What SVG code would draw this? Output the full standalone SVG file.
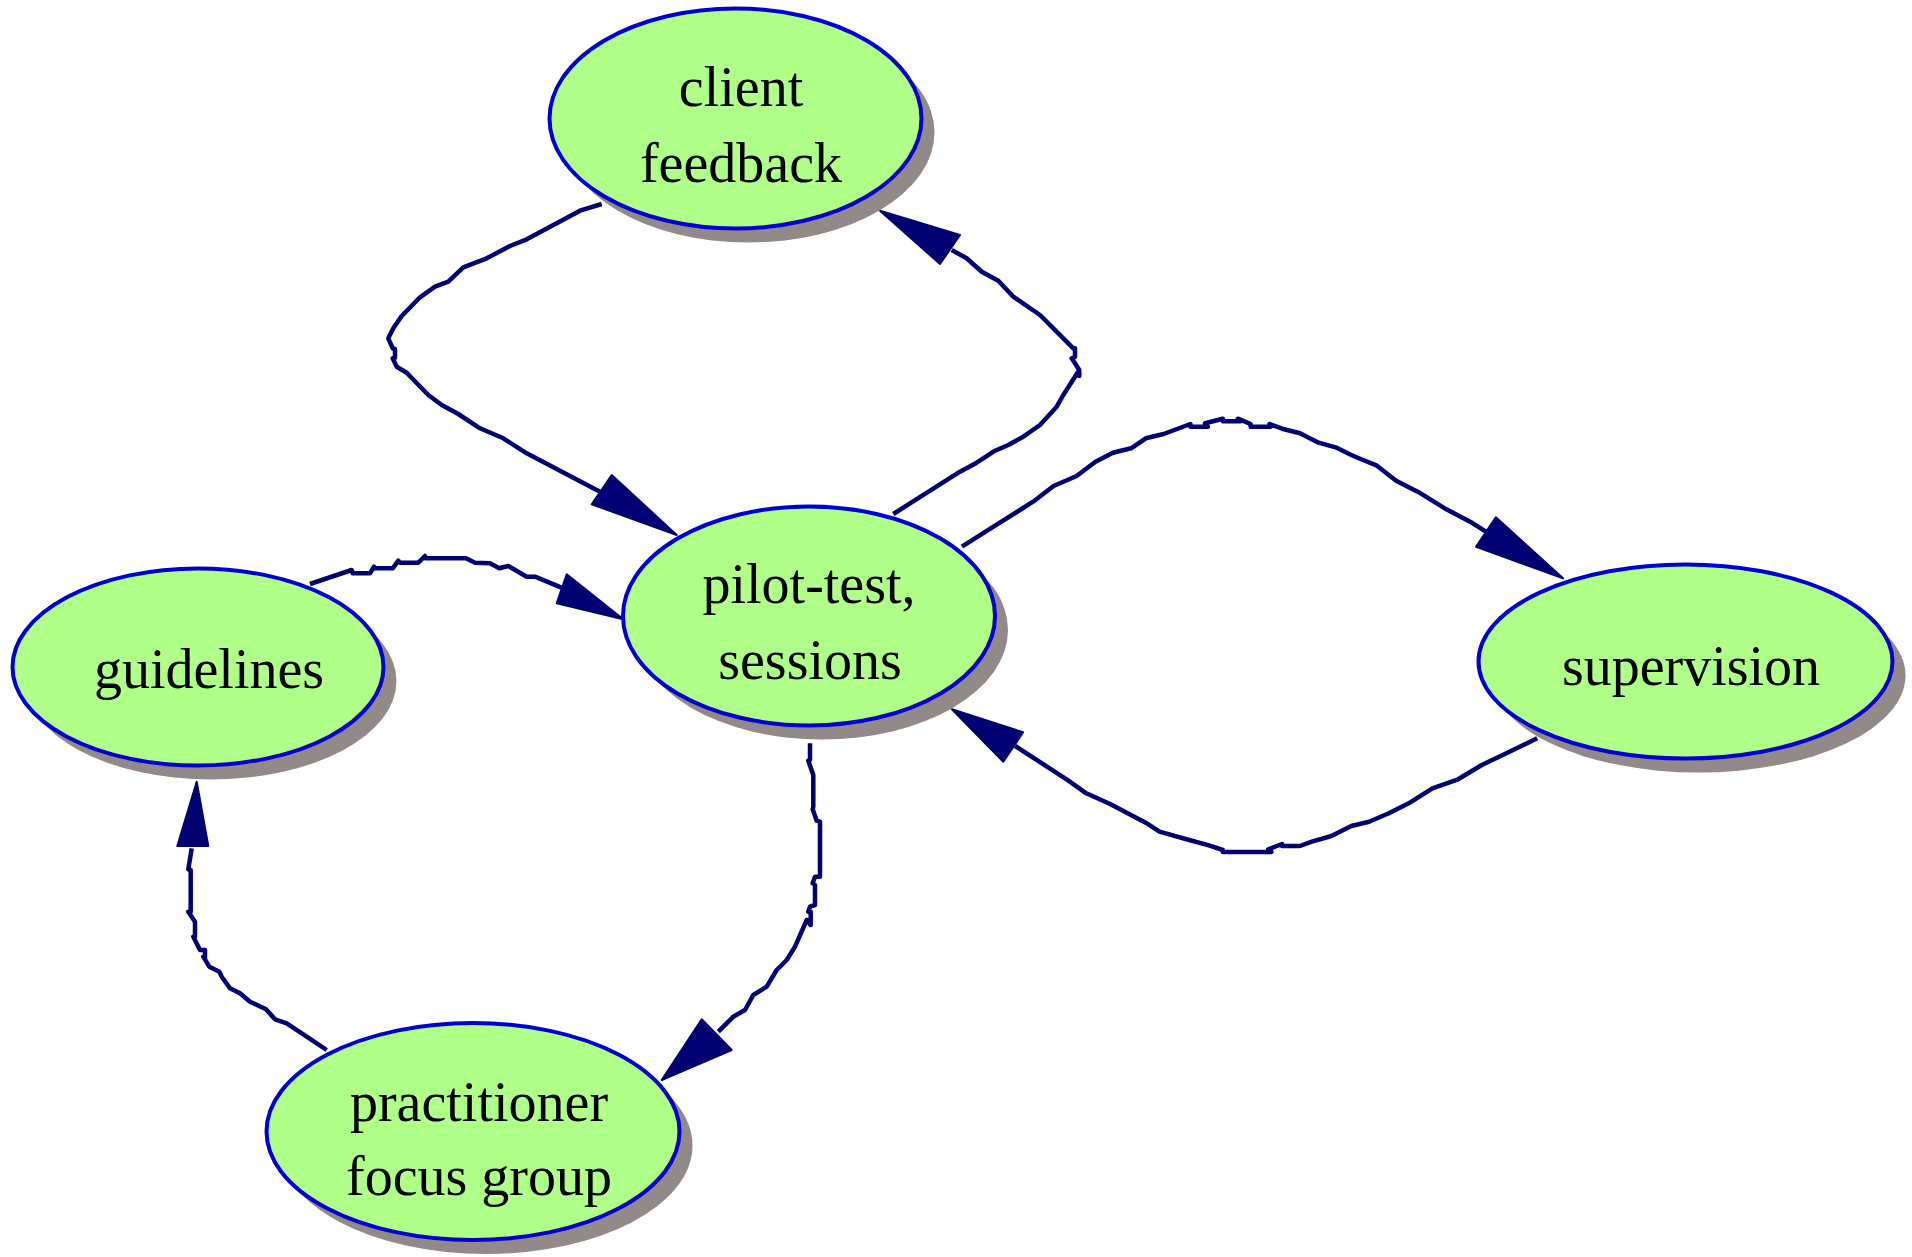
<svg xmlns="http://www.w3.org/2000/svg" width="1912" height="1257" viewBox="0 0 1912 1257">
<style>
.shadow{fill:#928989;stroke:none}
.body{fill:#b0ff88;stroke:#0000d0;stroke-width:4}
.lbl{font-family:"Liberation Serif","Times New Roman",serif;font-size:56px;fill:#000;text-anchor:middle}
.edge{fill:none;stroke:#000072;stroke-width:4.5;stroke-linejoin:round;stroke-linecap:butt}
.head{fill:#000072;stroke:#000072;stroke-width:2;stroke-linejoin:round}
</style>
<rect width="1912" height="1257" fill="#ffffff"/>
<g id="connectors">
<g id="e-client-pilot">
<polyline class="edge" points="601.7,204 580,210.7 556.7,223.3 526.7,239.3 510,246 486.7,258.3 463.3,267.3 448.3,281.7 435,286.7 420,297.3 401.7,316 393.3,328.3 388.3,338.3 392.7,348.3 395,349 395,358 392.7,358.3 396.7,366.7 406.7,372.7 428.3,395 441.7,405 458.3,414 480,428.3 503.3,438.3 526.7,453.3 600,491.7"/>
<polygon class="head" points="611.7,475 591.7,504.3 676.7,535"/>
</g>
<g id="e-pilot-client">
<polyline class="edge" points="893.3,514 960,471.7 976.7,462.7 995,450.7 1008.3,445 1023.3,436.7 1040,425 1056.7,406.7 1063.3,395 1075,376.7 1079.3,370 1079.3,376 1079.3,370 1071.7,358.3 1075,357 1075,348.3 1073.3,348.3 1040,315 1013.3,296.7 998.3,280.7 981.7,271.7 966.7,258.3 951.7,250"/>
<polygon class="head" points="960,235 940,264 880,210.7"/>
</g>
<g id="e-pilot-supervision">
<polyline class="edge" points="961.9,546.7 993.5,526.7 1033.1,501.7 1053.6,486 1076.6,476 1095.5,461.7 1112.9,452.7 1131.1,448.3 1145.8,438.3 1163.6,434 1190.5,424 1190.5,426.7 1207.9,426.7 1205.1,423.3 1222.9,418.7 1222.9,421.3 1240.7,421.3 1237.9,418.7 1250.6,424 1250.6,426.7 1270.4,426.7 1269.6,424 1282.2,428.7 1300,433.3 1318.6,442.7 1335.6,447.3 1353.4,456 1376.3,465.3 1396.1,480.7 1420.6,493.3 1446.4,509.3 1470.1,521.7 1485.9,531.7"/>
<polygon class="head" points="1495.8,517.3 1476,546.7 1563,578.3"/>
</g>
<g id="e-supervision-pilot">
<polyline class="edge" points="1537.2,738.3 1509.5,751.7 1481.8,765 1458.1,779.3 1432.4,788.3 1408.7,803.3 1388.9,813.3 1369.1,821.7 1351.3,826 1331.5,836 1311.8,841.7 1299.9,846 1282.1,846 1282.1,844 1268.3,849.3 1271.4,852 1222.8,852 1222.8,850 1208.9,845.3 1189.2,840 1159.5,831.7 1145.7,822.7 1110.1,804 1086.3,793.3 1066.6,779.3 1015.1,746"/>
<polygon class="head" points="1023.1,732.3 1003.3,761.7 951.9,709.3"/>
</g>
<g id="e-guidelines-pilot">
<polyline class="edge" points="310,584 351.7,570 352.7,573.3 370,573.3 374,566.7 374,568.3 392.7,568.3 398.3,560.7 400,562.7 418.3,562.7 425,556 425,558.3 466,558.3 475,562.7 490,563.3 499.3,568.3 508.3,566 526.7,576.7 535,576.7 563.3,588.3"/>
<polygon class="head" points="566.7,574.3 556.7,603.3 623.3,619.3"/>
</g>
<g id="e-pilot-practitioner">
<polyline class="edge" points="810,743.3 810,760 808.3,760.7 813.3,775 813.3,806.7 812.7,809.3 816.7,820.7 820,821.7 820,876.7 815,876.7 812.7,883.3 815,885 815,905 810,906.7 808.3,911.7 810.7,911.7 810.7,925 806.7,920 795,946.7 786.7,960 776.7,970 766.7,986.7 753.3,995 745,1010 733.3,1016.7 718.3,1031.7"/>
<polygon class="head" points="701.7,1019.3 731.7,1050 661.7,1080"/>
</g>
<g id="e-practitioner-guidelines">
<polyline class="edge" points="326.7,1050 306.7,1036.7 286.7,1023.3 275,1019.3 266,1009.3 250,1001.7 240,993.3 230,988.3 221.7,976.7 219.3,971.7 209.3,966.7 203.3,956.7 205,959 205,950 200,950 193.3,936.7 195,936.7 195,921.7 188.3,911.7 190.7,911.7 190.7,870 188.3,869.3 191.7,848.3"/>
<polygon class="head" points="177.3,846 208.3,846 196.7,781.7"/>
</g>
</g>
<g id="node-client-feedback">
<ellipse class="shadow" cx="748.5" cy="132.5" rx="186" ry="110"/>
<ellipse class="body" cx="735.5" cy="118.5" rx="186" ry="110"/>
<text class="lbl" x="741" y="106">client</text>
<text class="lbl" x="741" y="182">feedback</text>
</g>
<g id="node-pilot-test">
<ellipse class="shadow" cx="822" cy="630" rx="186" ry="109.5"/>
<ellipse class="body" cx="809" cy="616" rx="186" ry="109.5"/>
<text class="lbl" x="809" y="603">pilot-test,</text>
<text class="lbl" x="810" y="679">sessions</text>
</g>
<g id="node-guidelines">
<ellipse class="shadow" cx="211" cy="681" rx="185.5" ry="98.5"/>
<ellipse class="body" cx="198" cy="667" rx="185.5" ry="98.5"/>
<text class="lbl" x="209" y="688">guidelines</text>
</g>
<g id="node-supervision">
<ellipse class="shadow" cx="1698.5" cy="675.5" rx="207" ry="97"/>
<ellipse class="body" cx="1685.5" cy="661.5" rx="207" ry="97"/>
<text class="lbl" x="1691" y="685">supervision</text>
</g>
<g id="node-practitioner-focus-group">
<ellipse class="shadow" cx="486" cy="1145.5" rx="206.5" ry="108.5"/>
<ellipse class="body" cx="473" cy="1131.5" rx="206.5" ry="108.5"/>
<text class="lbl" x="479" y="1121">practitioner</text>
<text class="lbl" x="479" y="1195">focus group</text>
</g>
</svg>
